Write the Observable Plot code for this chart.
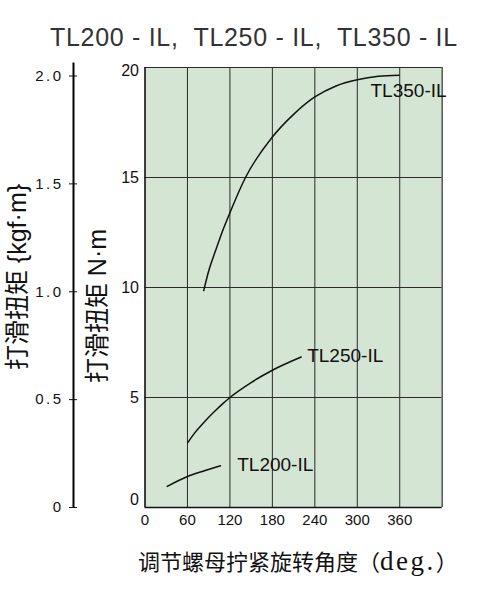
<!DOCTYPE html>
<html><head><meta charset="utf-8">
<script src="https://cdn.jsdelivr.net/npm/d3@7"></script>
<script src="https://cdn.jsdelivr.net/npm/@observablehq/plot@0.6"></script>
<style>
body{margin:0;background:#fff;width:480px;height:600px;position:relative;overflow:hidden;font-family:"Liberation Sans",Arial,sans-serif}
#title{position:absolute;left:50px;top:24px;font-size:25px;line-height:26px;white-space:pre;color:#333;letter-spacing:0.7px}
#chart{position:absolute;left:0;top:50px}
.ylab{position:absolute;font-family:"Liberation Sans","Noto Sans CJK SC",sans-serif;font-size:25px;white-space:pre;transform:translate(-50%,-50%) rotate(-90deg);line-height:1;color:#111}
#xlab{position:absolute;left:138px;top:547px;font-family:"Noto Sans CJK SC",sans-serif;font-size:22px;line-height:26px;white-space:pre;color:#111}
#xlab .lat{font-family:"Liberation Serif",serif;font-size:27px;letter-spacing:2.5px}
</style>
</head><body>
<div id="title">TL200 - IL,  TL250 - IL,  TL350 - IL</div>
<div id="chart"></div>
<div class="ylab" style="left:17px;top:277px">打滑扭矩 {kgf·m}</div>
<div class="ylab" style="left:97px;top:306px">打滑扭矩 N·m</div>
<div id="xlab">调节螺母拧紧旋转角度（<span class="lat">deg.</span>）</div>
<script>
// data
const tl350X = [83, 90, 100, 110, 120, 142, 180, 210, 240, 270, 300, 330, 359];
const tl350Y = [9.86, 10.75, 11.7, 12.6, 13.4, 15.0, 16.84, 17.87, 18.66, 19.16, 19.44, 19.6, 19.65];
const tl250X = [60.5, 70, 80, 90, 100, 110, 120, 150, 180, 220.7];
const tl250Y = [2.95, 3.38, 3.75, 4.1, 4.42, 4.72, 5.0, 5.68, 6.24, 6.84];
const tl200X = [31.4, 60, 85, 106.7];
const tl200Y = [0.96, 1.41, 1.68, 1.9];
const labelNames = ["TL350-IL", "TL250-IL", "TL200-IL"];
const labelX = [318.7, 229.2, 130.3];
const labelY = [18.93, 6.87, 1.94];
const xTicks = [0, 60, 120, 180, 240, 300, 360];
const gridX = [60, 120, 180, 240, 300, 360];
const gridY = [5, 10, 15, 20];
const nmTicksMid = [5, 10, 15];
const nmTickTop = [20];
const nmTickBottom = [0];
const kgfTicks = [0, 0.5, 1.0, 1.5, 2.0];
const kgfLabels = ["0", "0.5", "1.0", "1.5", "2.0"];
const kgfAxisTop = 20.2;
const KGF = 9.80665;

const mk = (xs, ys) => xs.map((x, i) => ({x, y: ys[i]}));
const ink = "#111";
const kgfOffset = 71.5; // distance of the kgf·m axis line left of the frame

const chart = Plot.plot({
  width: 480, height: 487,
  marginLeft: 144.5, marginRight: 38.3, marginTop: 17, marginBottom: 30,
  x: {domain: [0, 420], axis: null},
  y: {domain: [0, 20], axis: null},
  style: {fontFamily: "'Liberation Sans', Arial, sans-serif", fontSize: "15px", color: ink, overflow: "visible"},
  marks: [
    Plot.frame({fill: "#d4e6d3", stroke: null}),
    Plot.ruleX(gridX, {stroke: "#2a2a2a", strokeWidth: 1}),
    Plot.ruleY(gridY, {stroke: "#2a2a2a", strokeWidth: 1}),
    Plot.ruleX([420], {stroke: "#555", strokeWidth: 1.5}),
    Plot.ruleX([0], {stroke: ink, strokeWidth: 1.6}),
    Plot.ruleY([0], {stroke: ink, strokeWidth: 1.6}),
    // N·m axis labels
    Plot.axisY(nmTicksMid, {anchor: "left", label: null, tickSize: 0, tickPadding: 6, fontSize: 16, fill: ink}),
    Plot.axisY(nmTickTop, {anchor: "left", label: null, tickSize: 0, tickPadding: 6, dy: 3, fontSize: 16, fill: ink}),
    Plot.axisY(nmTickBottom, {anchor: "left", label: null, tickSize: 0, tickPadding: 6, dy: -8, fontSize: 16, fill: ink}),
    Plot.axisX(xTicks, {anchor: "bottom", label: null, tickSize: 0, tickPadding: 7, fontSize: 15, fill: ink}),
    // curves
    Plot.line(mk(tl350X, tl350Y), {x: "x", y: "y", curve: "monotone-x", stroke: ink, strokeWidth: 1.5}),
    Plot.line(mk(tl250X, tl250Y), {x: "x", y: "y", curve: "monotone-x", stroke: ink, strokeWidth: 1.5}),
    Plot.line(mk(tl200X, tl200Y), {x: "x", y: "y", curve: "monotone-x", stroke: ink, strokeWidth: 1.5}),
    Plot.text(labelNames, {x: labelX, y: labelY, text: d => d, textAnchor: "start", fontSize: 19, fill: ink}),
    // kgf·m axis on the far left: vertical line + crossing ticks + labels
    Plot.ruleX([0], {y1: 0, y2: kgfAxisTop, dx: -kgfOffset, stroke: "#000", strokeWidth: 2}),
    Plot.axisY(kgfTicks.map(k => k * KGF), {
      anchor: "left", label: null, tickSize: 8, tickPadding: 6, dx: -(kgfOffset - 4), stroke: ink,
      tickFormat: d => kgfLabels[kgfTicks.findIndex(k => Math.abs(k * KGF - d) < 1e-6)],
      fontSize: 15, fill: ink, ariaDescription: "kgf"
    })
  ]
});
document.getElementById("chart").appendChild(chart);
d3.select(chart).selectAll('g[aria-description="kgf"] text').style("letter-spacing", "2.5px");
</script>
</body></html>
